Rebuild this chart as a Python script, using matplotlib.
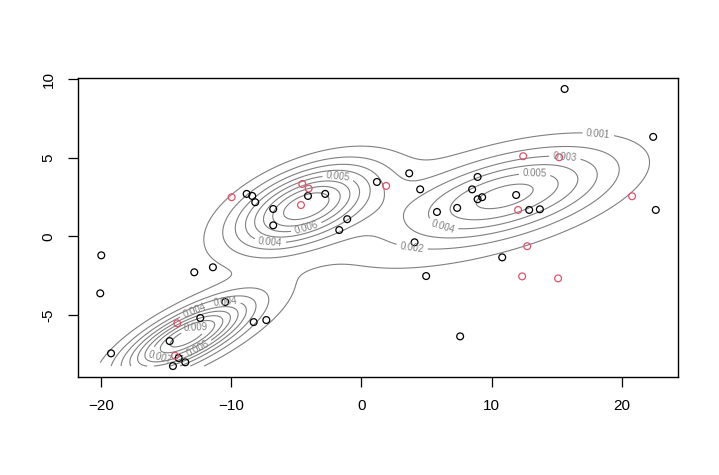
import numpy as np
import matplotlib.pyplot as plt

plt.rcParams['font.family'] = ['Liberation Sans', 'DejaVu Sans']

# observed points (black) and test points (red)
black_x = [15.6, 22.4, 22.6, 8.92, 8.5, 8.92, 9.27, 11.88, 7.35, 12.88, 13.7, 5.8,
           3.67, 4.51, 1.19, -2.78, -4.1, -6.77, -6.77, -1.09, -1.7, -8.81, -8.38,
           -8.15, 4.08, 4.97, 7.58, 10.81, -19.97, -20.05, -12.83, -11.4, -10.45,
           -8.27, -7.3, -12.37, -14.72, -19.22, -14.03, -13.52, -14.47]
black_y = [9.39, 6.34, 1.69, 3.79, 3.0, 2.37, 2.5, 2.64, 1.82, 1.69, 1.73, 1.56,
           4.02, 3.0, 3.47, 2.71, 2.58, 1.75, 0.71, 1.1, 0.41, 2.71, 2.58,
           2.18, -0.37, -2.52, -6.36, -1.33, -1.2, -3.62, -2.28, -1.96, -4.17,
           -5.45, -5.32, -5.19, -6.66, -7.44, -7.74, -8.01, -8.25]
red_x = [12.42, 15.18, 20.78, 12.03, 1.9, -4.54, -4.05, -4.64, -9.96, 12.73, 12.34,
         15.1, -14.14, -14.31]
red_y = [5.11, 5.04, 2.56, 1.69, 3.22, 3.34, 3.05, 2.0, 2.5, -0.62, -2.54,
         -2.67, -5.53, -7.59]

# gaussian mixture components: weight, mean, sd along main axes, angle (deg)
comp_w = [0.209, 0.287, 0.354, 0.19]
comp_mx = [-13.4, -4.3, 11.2, 1.0]
comp_my = [-6.4, 1.95, 2.6, -0.5]
comp_sd1 = [3.5, 3.7, 5.7, 11.5]
comp_sd2 = [1.0, 1.45, 1.65, 3.8]
comp_ang = [22, 17, 12, 16]

levels = [0.001, 0.002, 0.003, 0.004, 0.005, 0.006, 0.007, 0.008, 0.009, 0.010, 0.011]

all_x = black_x + red_x
all_y = black_y + red_y
gx = np.linspace(min(all_x), max(all_x), 200)
gy = np.linspace(min(all_y), max(all_y), 200)
X, Y = np.meshgrid(gx, gy)

Z = np.zeros_like(X)
for w, mx, my, s1, s2, a in zip(comp_w, comp_mx, comp_my, comp_sd1, comp_sd2, comp_ang):
    t = np.radians(a)
    R = np.array([[np.cos(t), -np.sin(t)], [np.sin(t), np.cos(t)]])
    S = R @ np.diag([s1**2, s2**2]) @ R.T
    Si = np.linalg.inv(S)
    dx = X - mx
    dy = Y - my
    q = Si[0, 0]*dx*dx + 2*Si[0, 1]*dx*dy + Si[1, 1]*dy*dy
    Z += w * np.exp(-0.5*q) / (2*np.pi*np.sqrt(np.linalg.det(S)))

fig = plt.figure(figsize=(7.19, 4.75), dpi=100)
ax = fig.add_axes([0.1085, 0.206, 0.8345, 0.630])

cs = ax.contour(X, Y, Z, levels=levels, colors='#808080', linewidths=0.8)
label_pos = [(18.15, 6.14), (15.6, 4.8), (13.3, 3.73), (6.4, 1.1), (3.95, -0.35),
             (-1.8, 3.73), (-7.0, -0.35), (-4.2, 0.48), (-10.5, -4.04),
             (-12.8, -4.75), (-12.7, -5.83), (-12.6, -7.1), (-15.5, -7.8)]
ax.clabel(cs, manual=label_pos, inline=True, fmt='%.3f', fontsize=7, colors='#808080')

ax.scatter(black_x, black_y, s=24, facecolors='none', edgecolors='black', linewidths=0.9, zorder=3)
ax.scatter(red_x, red_y, s=24, facecolors='none', edgecolors='#DF536B', linewidths=0.9, zorder=3)

span_x = max(all_x) - min(all_x)
span_y = max(all_y) - min(all_y)
ax.set_xlim(min(all_x) - 0.04*span_x, max(all_x) + 0.04*span_x)
ax.set_ylim(min(all_y) - 0.04*span_y, max(all_y) + 0.04*span_y)

ax.set_xticks([-20, -10, 0, 10, 20])
ax.set_yticks([-5, 0, 5, 10])
ax.set_yticklabels(['-5', '0', '5', '10'], rotation=90, va='center')
ax.tick_params(direction='out', length=7, width=0.9, labelsize=11, pad=9)
for sp in ax.spines.values():
    sp.set_linewidth(1.0)

plt.savefig('out.png', dpi=100)
